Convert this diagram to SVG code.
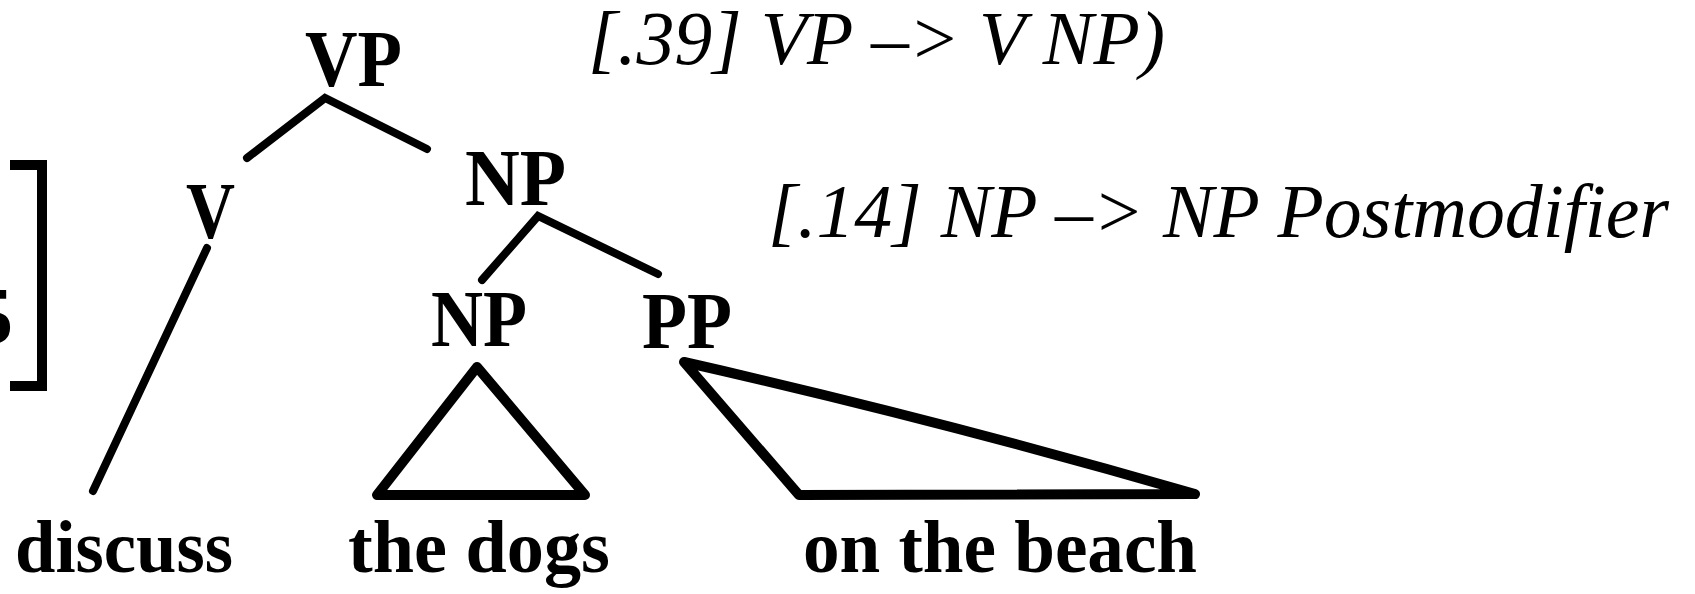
<svg xmlns="http://www.w3.org/2000/svg" width="1695" height="594" viewBox="0 0 1695 594">
  <style>
    .lbl { font-family: "Liberation Serif", "Times New Roman", serif; font-weight: bold; font-size: 80px; fill: #000; }
    .word { font-family: "Liberation Serif", "Times New Roman", serif; font-weight: bold; font-size: 74px; fill: #000; }
    .rule { font-family: "Liberation Serif", "Times New Roman", serif; font-style: italic; font-size: 76px; fill: #000; }
    .edge { stroke: #000; stroke-width: 8; fill: none; stroke-linecap: round; }
    .tri { stroke: #000; stroke-width: 10; fill: none; stroke-linejoin: round; }
  </style>
  <rect width="1695" height="594" fill="#fff"/>

  <g id="bracket">
    <text class="lbl" x="-27" y="343" font-size="72">5</text>
    <path d="M 10 165 H 42 V 386 H 10" stroke="#000" stroke-width="10" fill="none"/>
  </g>

  <g id="rules">
    <text class="rule" x="588" y="64" textLength="577" lengthAdjust="spacingAndGlyphs">[.39] VP –&gt; V NP)</text>
    <text class="rule" x="768" y="237" textLength="901" lengthAdjust="spacingAndGlyphs">[.14] NP –&gt; NP Postmodifier</text>
  </g>

  <g id="node-VP"><text class="lbl" x="305" y="86" textLength="97" lengthAdjust="spacingAndGlyphs">VP</text></g>
  <g id="node-V"><text class="lbl" x="186" y="238" textLength="49" lengthAdjust="spacingAndGlyphs">V</text></g>
  <g id="node-NP1"><text class="lbl" x="465" y="205" textLength="101" lengthAdjust="spacingAndGlyphs">NP</text></g>
  <g id="node-NP2"><text class="lbl" x="431" y="346" textLength="96" lengthAdjust="spacingAndGlyphs">NP</text></g>
  <g id="node-PP"><text class="lbl" x="642" y="348" textLength="90" lengthAdjust="spacingAndGlyphs">PP</text></g>
  <g id="node-discuss"><text class="word" x="15" y="572" textLength="218" lengthAdjust="spacingAndGlyphs">discuss</text></g>
  <g id="node-thedogs"><text class="word" x="348" y="572" textLength="262" lengthAdjust="spacingAndGlyphs">the dogs</text></g>
  <g id="node-onthebeach"><text class="word" x="803" y="572" textLength="394" lengthAdjust="spacingAndGlyphs">on the beach</text></g>

  <g id="connectors">
    <polyline class="edge" points="247,158 325,98 427,149"/>
    <line class="edge" x1="207" y1="248" x2="93" y2="491" stroke-width="7"/>
    <polyline class="edge" points="482,280 538,216 658,274"/>
    <polygon class="tri" points="477,367 377,495 585,495"/>
    <path class="tri" d="M 684 362 Q 940 420 1195 494 L 799 495 Z"/>
  </g>
</svg>
